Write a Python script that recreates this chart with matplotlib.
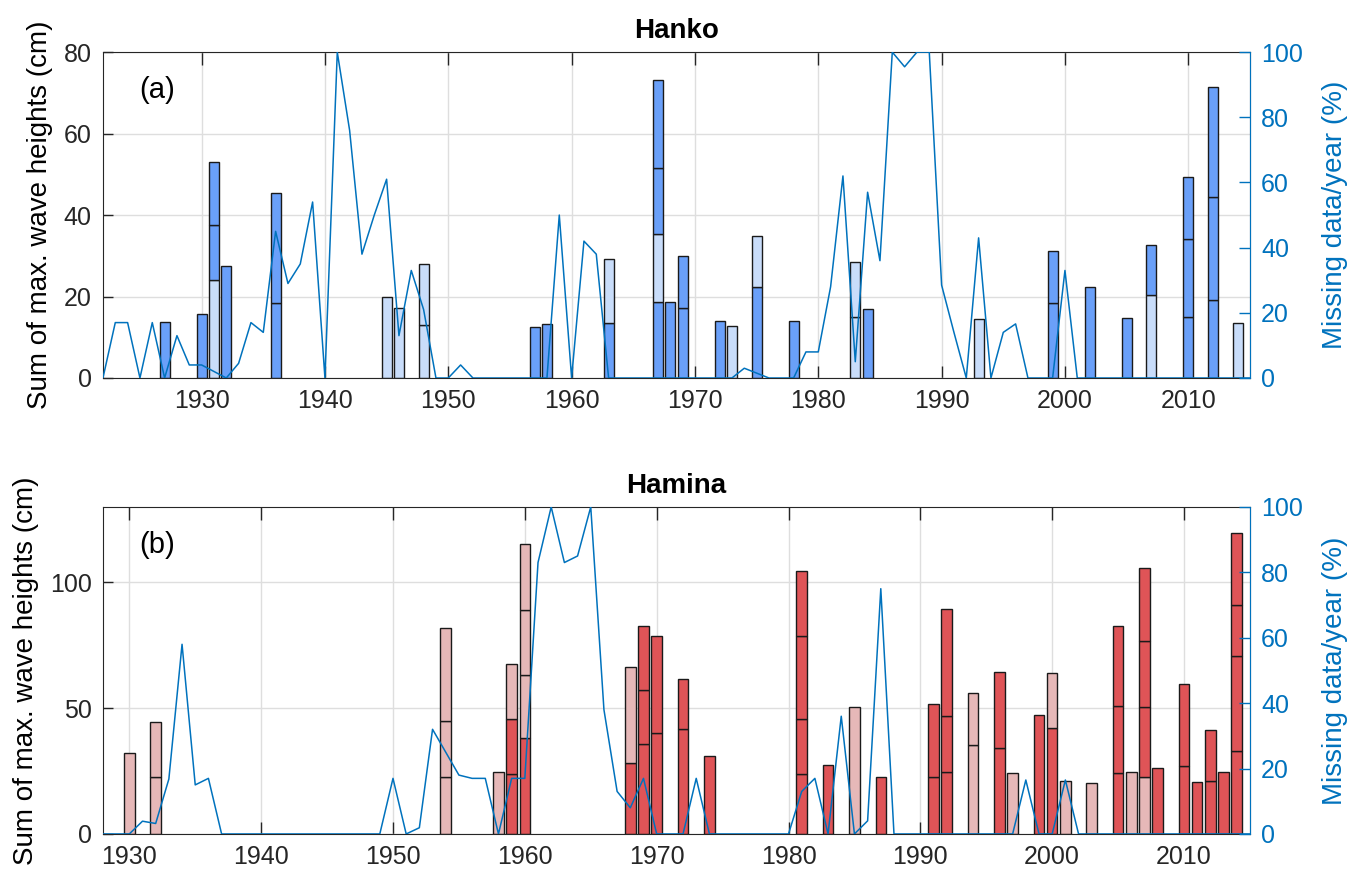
import matplotlib
matplotlib.use("Agg")
import matplotlib.pyplot as plt
import numpy as np

plt.rcParams['font.family'] = ['Liberation Sans', 'DejaVu Sans']

# colores
DARK_BLUE = "#6aa0f9"
LIGHT_BLUE = "#c9ddfa"
RED = "#df5457"
PINK = "#e6b8b8"
LINE = "#0072bd"
TXT = "#262626"

# Hanko: altura de cada tramo apilado y si es claro (1) u oscuro (0)
hanko_years = [1927, 1930, 1931, 1932, 1936, 1945, 1946, 1948, 1957, 1958,
               1963, 1967, 1968, 1969, 1972, 1973, 1975, 1978, 1983, 1984,
               1993, 1999, 2002, 2005, 2007, 2010, 2012, 2014]
hanko_segs = [[13.8], [15.6], [24.0, 13.5, 15.6], [27.6], [18.3, 27.2],
              [20.0], [17.1], [13.0, 15.0], [12.6], [13.2],
              [13.5, 15.7], [18.7, 16.6, 16.2, 21.6], [18.7], [17.3, 12.7],
              [14.0], [12.8], [22.3, 12.5], [14.1], [15.0, 13.5], [16.9],
              [14.6], [18.3, 12.9], [22.4], [14.7], [20.3, 12.3],
              [15.0, 19.0, 15.4], [19.1, 25.4, 27.0], [13.4]]
hanko_light = [[0], [0], [1, 0, 0], [0], [0, 0],
               [1], [1], [1, 1], [0], [0],
               [0, 1], [0, 1, 0, 0], [0], [0, 0],
               [0], [1], [0, 1], [0], [1, 1], [0],
               [1], [0, 0], [0], [0], [1, 0],
               [0, 0, 0], [0, 0, 0], [1]]

hanko_miss_years = list(range(1922, 2016))
hanko_miss = [0, 17, 17, 0, 17, 0, 13, 4, 4, 2,            # 1922-1931
              0, 4.5, 17, 14, 45, 29, 35, 54, 0, 100,      # 1932-1941
              76, 38, 50, 61, 13, 33, 21, 0, 0, 4,         # 1942-1951
              0, 0, 0, 0, 0, 0, 0, 50, 0, 42,              # 1952-1961
              38, 0, 0, 0, 0, 0, 0, 0, 0, 0,               # 1962-1971
              0, 0, 3, 1.5, 0, 0, 0, 8, 8, 28,             # 1972-1981
              62, 5, 57, 36, 100, 95.5, 100, 100, 28.5, 14,  # 1982-1991
              0, 43, 0, 14, 16.6, 0, 0, 0, 33, 0,          # 1992-2001
              0, 0, 0, 0, 0, 0, 0, 0, 0, 0,                # 2002-2011
              0, 0, 0, 0]                                  # 2012-2015

# Hamina
hamina_years = [1930, 1932, 1954, 1958, 1959, 1960, 1968, 1969, 1970, 1972,
                1974, 1981, 1983, 1985, 1987, 1991, 1992, 1994, 1996, 1997,
                1999, 2000, 2001, 2003, 2005, 2006, 2007, 2008, 2010, 2011,
                2012, 2013, 2014]
hamina_segs = [[32.1], [22.8, 21.6], [22.8, 22.3, 36.7], [24.8],
               [23.8, 21.9, 21.9], [38.0, 25.0, 26.1, 26.2], [28.4, 37.8],
               [35.8, 21.5, 25.2], [40.3, 38.2], [41.6, 20.1],
               [31.1], [23.7, 22.0, 33.1, 25.6], [27.4], [50.6], [22.5],
               [22.8, 28.8], [24.6, 22.1, 42.7], [35.3, 20.9], [34.3, 30.1],
               [24.1], [47.1], [42.3, 21.7], [21.2], [20.1],
               [24.1, 26.9, 31.5], [24.5], [22.8, 27.6, 26.4, 28.8], [26.1],
               [27.0, 32.8], [20.8], [21.2, 20.2], [24.8],
               [32.9, 38.0, 20.2, 28.6]]
hamina_light = [[1], [1, 1], [1, 1, 1], [1],
                [0, 0, 1], [0, 1, 1, 1], [0, 1],
                [0, 0, 0], [0, 0], [0, 0],
                [0], [0, 0, 0, 0], [0], [1], [0],
                [0, 0], [0, 0, 0], [1, 1], [0, 0],
                [1], [0], [0, 1], [1], [1],
                [0, 0, 0], [1], [1, 0, 0, 0], [0],
                [0, 0], [0], [0, 0], [0],
                [0, 0, 0, 0]]

hamina_miss_years = list(range(1928, 2016))
hamina_miss = [0, 0, 0, 3.9, 3.2, 16.8, 58, 15, 17, 0,     # 1928-1937
               0, 0, 0, 0, 0, 0, 0, 0, 0, 0,               # 1938-1947
               0, 0, 17, 0, 1.9, 32, 25, 18, 17, 17,       # 1948-1957
               0, 17, 17, 83, 100, 83, 85, 100, 38, 13,    # 1958-1967
               8, 17, 0, 0, 0, 17, 0, 0, 0, 0,             # 1968-1977
               0, 0, 0, 13, 17, 0, 36, 0, 4, 75,           # 1978-1987
               0, 0, 0, 0, 0, 0, 0, 0, 0, 0,               # 1988-1997
               16.5, 0, 0, 16.5, 0, 0, 0, 0, 0, 0,         # 1998-2007
               0, 0, 0, 0, 0, 0, 0, 0]                     # 2008-2015


def draw_panel(ax, years, segs, light, dark_col, light_col,
               miss_years, miss, xlim, ylim, yticks, title, tag):
    for yr, hs, fl in zip(years, segs, light):
        bottom = 0
        for h, f in zip(hs, fl):
            ax.bar(yr, h, bottom=bottom, width=0.8,
                   color=light_col if f else dark_col,
                   edgecolor="#1a1a1a", linewidth=1.0, zorder=2)
            bottom += h

    ax.set_xlim(*xlim)
    ax.set_ylim(0, ylim)
    ax.set_yticks(yticks)
    ax.set_xticks(range(1930, 2011, 10))
    ax.grid(color="#dedede", linewidth=1.0)
    ax.set_axisbelow(True)
    ax.tick_params(direction="in", top=True, length=7, width=1,
                   labelsize=18, colors=TXT, pad=8)
    ax.tick_params(axis="x", length=9)
    for s in ax.spines.values():
        s.set_color(TXT)
    ax.set_ylabel("Sum of max. wave heights (cm)", fontsize=20, color="black",
                  labelpad=8)
    ax.set_title(title, fontsize=20, fontweight="bold", pad=10)
    ax.text(0.032, 0.885, tag, transform=ax.transAxes, fontsize=21,
            va="center", ha="left")

    ax2 = ax.twinx()
    ax2.plot(miss_years, miss, color=LINE, linewidth=1.1)
    ax2.set_ylim(0, 100)
    ax2.set_yticks([0, 20, 40, 60, 80, 100])
    ax2.tick_params(direction="in", length=8, width=1, labelsize=18,
                    colors=LINE, pad=8)
    ax2.spines["right"].set_color(LINE)
    for side in ["left", "top", "bottom"]:
        ax2.spines[side].set_visible(False)
    ax2.set_ylabel("Missing data/year (%)", fontsize=20, color=LINE,
                   labelpad=14)
    return ax2


fig = plt.figure(figsize=(13.51, 8.76), dpi=100)
ax_a = fig.add_axes([0.0762, 0.5685, 0.849, 0.372])
ax_b = fig.add_axes([0.0762, 0.048, 0.849, 0.3733])

draw_panel(ax_a, hanko_years, hanko_segs, hanko_light, DARK_BLUE, LIGHT_BLUE,
           hanko_miss_years, hanko_miss, (1922, 2015), 80,
           [0, 20, 40, 60, 80], "Hanko", "(a)")
draw_panel(ax_b, hamina_years, hamina_segs, hamina_light, RED, PINK,
           hamina_miss_years, hamina_miss, (1928, 2015), 130,
           [0, 50, 100], "Hamina", "(b)")

fig.savefig("out.png", dpi=100)
